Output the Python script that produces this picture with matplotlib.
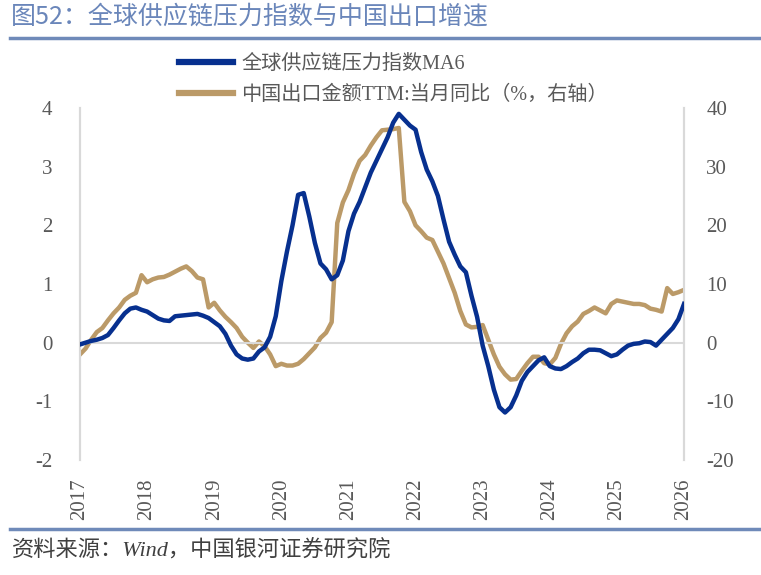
import matplotlib
matplotlib.use("Agg")
import matplotlib.pyplot as plt
from matplotlib.lines import Line2D
import numpy as np

plt.rcParams['font.family'] = ['Liberation Serif', 'Noto Sans CJK SC', 'DejaVu Sans']
plt.rcParams['axes.unicode_minus'] = False

# monthly, 2017-01 .. 2026-01
gscpi_ma6 = [
    -0.03, 0.00, 0.03, 0.05, 0.08, 0.13, 0.25, 0.38, 0.50, 0.58, 0.60, 0.56,
    0.53, 0.47, 0.41, 0.38, 0.37, 0.45, 0.46, 0.47, 0.48, 0.49, 0.46, 0.42,
    0.35, 0.28, 0.15, -0.05, -0.20, -0.27, -0.29, -0.27, -0.15, -0.08, 0.10, 0.45,
    1.05, 1.55, 2.00, 2.52, 2.55, 2.15, 1.70, 1.35, 1.25, 1.08, 1.15, 1.40,
    1.90, 2.20, 2.40, 2.65, 2.90, 3.10, 3.30, 3.50, 3.75, 3.90, 3.80, 3.70,
    3.63, 3.25, 2.95, 2.75, 2.50, 2.10, 1.72, 1.50, 1.30, 1.20, 0.80, 0.44,
    -0.05, -0.40, -0.80, -1.10, -1.19, -1.10, -0.90, -0.65, -0.50, -0.40, -0.30, -0.25,
    -0.40, -0.44, -0.45, -0.40, -0.33, -0.27, -0.18, -0.12, -0.12, -0.13, -0.18, -0.23,
    -0.20, -0.12, -0.05, -0.02, -0.01, 0.02, 0.01, -0.05, 0.05, 0.15, 0.25, 0.40,
    0.66,
]
export_ttm_yoy = [
    -2.0, -1.0, 0.5, 1.8, 2.5, 3.8, 5.0, 6.0, 7.3, 8.0, 8.5, 11.5,
    10.3, 10.8, 11.1, 11.2, 11.6, 12.1, 12.6, 13.0, 12.2, 11.1, 10.8, 6.0,
    6.8, 5.5, 4.4, 3.5, 2.5, 1.0, 0.0, -0.9, 0.2, -0.6, -2.0, -4.0,
    -3.6, -3.9, -3.9, -3.6, -2.8, -1.8, -0.8, 0.8, 1.7, 3.5, 20.4, 23.9,
    26.0, 28.8, 31.0, 32.0, 33.6, 35.0, 36.2, 36.3, 36.4, 36.6, 24.0, 22.4,
    20.0, 19.0, 17.9, 17.5, 15.5, 13.5, 11.0, 8.5, 5.4, 3.1, 2.6, 2.7,
    3.0, 0.5, -2.0, -4.1, -5.4, -6.3, -6.2, -4.8, -3.5, -2.4, -2.4, -3.5,
    -3.7, -2.6, -0.2, 1.6, 2.8, 3.6, 4.9, 5.4, 6.0, 5.5, 5.0, 6.6,
    7.2, 7.0, 6.8, 6.6, 6.6, 6.4, 5.8, 5.6, 5.3, 9.3, 8.3, 8.6,
    9.0,
]
years = list(range(2017, 2027))
t = 2017 + np.arange(len(gscpi_ma6)) / 12

blue = '#07308f'
gold = '#bb9a68'
grid = '#d9d9d9'
label_c = '#595959'

fig = plt.figure(figsize=(7.61, 5.75), dpi=100)
ax = fig.add_axes([80 / 761, 1 - 460 / 575, 604 / 761, 352 / 575])
ax2 = ax.twinx()

l1, = ax.plot(t, gscpi_ma6, color=blue, lw=3.2, solid_joinstyle='round', zorder=3)
l2, = ax2.plot(t, export_ttm_yoy, color=gold, lw=3.2, solid_joinstyle='round', zorder=2)
ax.set_zorder(ax2.get_zorder() + 1)
ax.patch.set_visible(False)

ax.set_xlim(2017, 2026)
ax.set_ylim(-2, 4)
ax2.set_ylim(-20, 40)
ax.set_yticks(range(-2, 5))
ax2.set_yticks(range(-20, 41, 10))
ax.set_xticks(years)
ax.set_xticklabels([str(y) for y in years], rotation=90)
ax.axhline(0, color=grid, lw=1.5, zorder=1)

for a in (ax, ax2):
    for s in ('top', 'bottom'):
        a.spines[s].set_visible(False)
    a.spines['left'].set_color(grid)
    a.spines['right'].set_color(grid)
    a.spines['left'].set_linewidth(1.5)
    a.spines['right'].set_linewidth(1.5)
    a.tick_params(length=0, colors=label_c, labelsize=15)
ax.tick_params(axis='y', pad=20)
ax.tick_params(axis='x', pad=13)
ax2.tick_params(axis='y', pad=16)

fig.legend([l1, l2], ['全球供应链压力指数MA6', '中国出口金额TTM:当月同比（%，右轴）'],
           loc='upper left', bbox_to_anchor=(179 / 761, 1 - 55 / 575),
           frameon=False, fontsize=14.5, handlelength=2.7, handletextpad=0.4,
           labelspacing=0.58, borderpad=0, borderaxespad=0, labelcolor=label_c)
for h in fig.legends[0].legend_handles:
    h.set_linewidth(4.5)

fig.text(11 / 761, 1 - 17 / 575, '图52：全球供应链压力指数与中国出口增速',
         fontsize=18, color='#6a86ba', va='center', ha='left',
         family=['Noto Sans CJK SC', 'DejaVu Sans'])
fig.add_artist(Line2D([10 / 761, 1], [1 - 38 / 575] * 2, color='#6f8ab9', lw=2.5))
fig.add_artist(Line2D([10 / 761, 1], [1 - 529 / 575] * 2, color='#6f8ab9', lw=2.5))
fig.text(12 / 761, 1 - 551 / 575, '资料来源：Wind，中国银河证券研究院',
         fontsize=16, color='#404040', va='center', ha='left', style='italic')

fig.savefig('out.png', dpi=100)
